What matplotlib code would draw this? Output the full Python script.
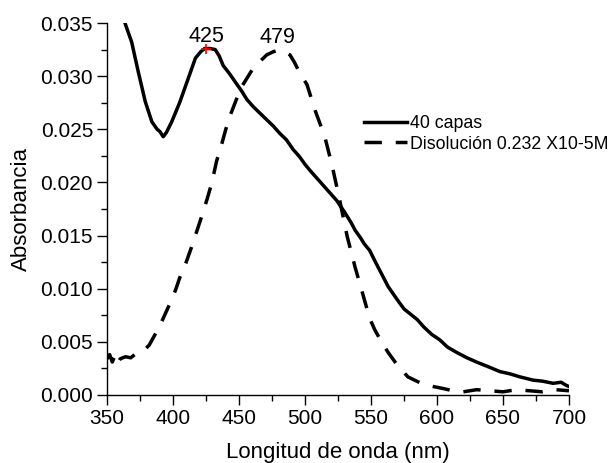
import matplotlib
matplotlib.use("Agg")
import matplotlib.pyplot as plt
from matplotlib.ticker import MultipleLocator, FormatStrFormatter

plt.rcParams['font.family'] = ['Liberation Sans', 'DejaVu Sans']

# Film spectrum (40 layers)
film_nm = [350, 356, 363.6, 368.7, 373.7, 379, 384, 388, 390, 392.6, 395, 399, 405,
           411.6, 417, 421, 424, 428, 432, 435, 438, 443, 448, 452, 456, 461, 466, 471,
           476, 481, 486, 491, 496, 500, 504, 509, 514, 519, 524, 530, 535, 538, 542,
           545, 549, 553, 558, 563, 569.7, 575, 580, 585, 590, 596, 602, 608, 615,
           622.7, 630, 638, 647.7, 655, 663, 672.7, 680, 688, 694, 698, 700]
film_abs = [0.0399, 0.0377, 0.0350, 0.0332, 0.0304, 0.0276, 0.0257, 0.0250, 0.0248,
            0.0243, 0.0247, 0.0257, 0.0275, 0.0298, 0.0317, 0.0323, 0.0326, 0.0326,
            0.0325, 0.0319, 0.0310, 0.0302, 0.0293, 0.0286, 0.0278, 0.0271,
            0.0265, 0.0259, 0.0253, 0.0246, 0.0240, 0.0231, 0.0224, 0.0217, 0.0211,
            0.0204, 0.0197, 0.0190, 0.0183, 0.0172, 0.0162, 0.0155, 0.0148, 0.0142,
            0.0136, 0.0126, 0.0114, 0.0102, 0.0090, 0.0081, 0.0076, 0.0071, 0.0064,
            0.0057, 0.0052, 0.0045, 0.0040, 0.0035, 0.0031, 0.0027, 0.0022, 0.0020,
            0.0017, 0.0014, 0.0013, 0.0011, 0.0012, 0.0009, 0.0008]

# Solution spectrum (0.232 x10-5 M)
sol_nm = [350, 352, 354, 356, 358, 360, 364, 368, 373, 378, 382, 386, 390, 394, 398,
          402, 405, 410, 414, 418, 422, 426, 429.5, 433, 436, 440, 443, 448, 452, 456,
          461, 466, 471, 476, 479, 482, 486, 488.6, 492, 496, 501.5, 507.6, 515,
          520.5, 526, 532, 538, 544, 549, 553, 558, 563, 570, 578, 588, 597, 605,
          612, 620, 630, 640, 650, 660, 670, 680, 690, 700]
sol_abs = [0.0034, 0.0038, 0.0031, 0.0037, 0.0030, 0.0034, 0.0036, 0.0035, 0.0040,
           0.0042, 0.0047, 0.0056, 0.0065, 0.0076, 0.0087, 0.0099, 0.0110, 0.0125,
           0.0139, 0.0154, 0.0169, 0.0185, 0.0200, 0.0220, 0.0232, 0.0250, 0.0262,
           0.0278, 0.0290, 0.0298, 0.0308, 0.0314, 0.0320, 0.0323, 0.0324, 0.0324,
           0.0322, 0.0320, 0.0313, 0.0303, 0.0292, 0.0268, 0.0243, 0.0216, 0.0185,
           0.0149, 0.0120, 0.0094, 0.0072, 0.0061, 0.0050, 0.0040, 0.0028, 0.0017,
           0.0011, 0.0008, 0.0006, 0.0004, 0.0003, 0.0005, 0.0004, 0.0003, 0.0005,
           0.0004, 0.0003, 0.0005, 0.0004]

peak_film = (425, 0.0326)
peak_sol = (479, 0.0324)

W, H = 613, 463
fig = plt.figure(figsize=(W / 100, H / 100), dpi=100)
ax = fig.add_axes([107 / W, 1 - 395 / H, (569 - 107) / W, (395 - 23) / H])

ax.plot(film_nm, film_abs, color='black', lw=2.5, label='40 capas')
ax.plot(sol_nm, sol_abs, color='black', lw=2.5, dashes=(5, 4),
        label='Disolución 0.232 X10-5M')
ax.plot([peak_film[0]], [peak_film[1]], marker='+', color='red', ms=7, mew=1.2)

ax.text(peak_film[0], peak_film[1] + 0.0006, f"{peak_film[0]}", ha='center',
        va='baseline', fontsize=15.5)
ax.text(peak_sol[0], peak_sol[1] + 0.0007, f"{peak_sol[0]}", ha='center',
        va='baseline', fontsize=15.5)

ax.set_xlim(350, 700)
ax.set_ylim(0, 0.035)
ax.xaxis.set_major_locator(MultipleLocator(50))
ax.xaxis.set_minor_locator(MultipleLocator(25))
ax.yaxis.set_major_locator(MultipleLocator(0.005))
ax.yaxis.set_minor_locator(MultipleLocator(0.0025))
ax.yaxis.set_major_formatter(FormatStrFormatter('%.3f'))
ax.tick_params(which='major', direction='out', length=7, width=1, labelsize=15, pad=3)
ax.tick_params(which='minor', direction='out', length=4, width=1)
for s in ('top', 'right'):
    ax.spines[s].set_visible(False)
for s in ('left', 'bottom'):
    ax.spines[s].set_linewidth(1)

ax.set_xlabel('Longitud de onda (nm)', fontsize=16, labelpad=10)
ax.set_ylabel('Absorbancia', fontsize=16, labelpad=6)

ax.legend(loc='upper left', bbox_to_anchor=(364 / W, 1 - 115 / H),
          bbox_transform=fig.transFigure, frameon=False, fontsize=12.8,
          handlelength=2.4, handletextpad=0.2, labelspacing=0.2,
          borderaxespad=0, borderpad=0)

fig.savefig('out.png', dpi=100)
